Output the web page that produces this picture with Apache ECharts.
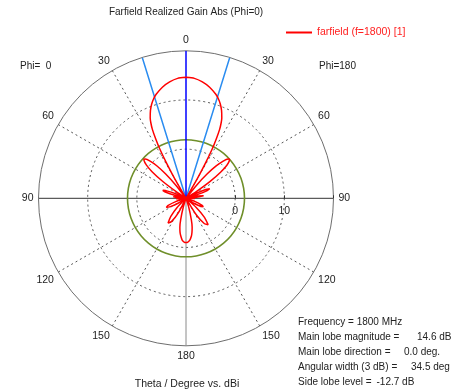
<!DOCTYPE html>
<html>
<head>
<meta charset="utf-8">
<script src="https://cdn.jsdelivr.net/npm/echarts@6/dist/echarts.min.js"></script>
<style>
html, body { margin: 0; padding: 0; background: #ffffff; }
#chart { width: 452px; height: 392px; }
</style>
</head>
<body>
<div id="chart"></div>
<script>
// Realized gain (dBi) versus theta, Phi = 180 half-plane (drawn on the right)
const thetaPhi180 = [0, 4, 8, 12, 16, 18, 20, 22, 24, 25, 26, 27, 28, 29, 30, 31,
  37, 39, 41, 43, 45, 47, 48, 49, 51, 53, 55, 57, 59,
  62, 64, 66, 68, 70, 72, 74,
  76, 79, 82, 85, 87,
  90, 92, 94,
  106, 110, 114, 116, 118, 122, 126,
  128, 132, 136, 140, 144, 148, 152,
  161, 163, 166, 168, 170, 172, 175, 178, 180];
const gainPhi180 = [14.6, 14.45, 13.9, 13.1, 12.0, 11.3, 10.4, 9.3, 7.9, 6.9, 5.6, 3.6, 1.3, -2, -5.5, -10,
  -10, -6.5, -3.4, -1.0, 0.7, 1.7, 1.9, 1.7, 0.7, -1.2, -4.0, -7.5, -10,
  -10, -7.8, -5.6, -4.8, -5.4, -7.6, -10,
  -10, -7.6, -6.4, -7.8, -10,
  -10, -8.2, -10,
  -10, -8, -6.4, -6.1, -6.4, -8, -10,
  -10, -7.2, -4.6, -3.0, -3.6, -6, -10,
  -10, -8, -5.5, -4.0, -3.0, -2.2, -1.4, -1.05, -1.0];

// Realized gain (dBi) versus theta, Phi = 0 half-plane (drawn on the left)
const thetaPhi0 = [0, 4, 8, 12, 16, 18, 20, 22, 24, 25, 26, 27, 28, 29, 30, 31,
  36, 38, 40, 42, 44, 46, 47, 48, 50, 52, 54, 56, 58,
  64, 66, 69, 71, 73, 75, 77,
  80, 83, 86, 88,
  90, 93, 95,
  104, 108, 112, 115, 118, 122, 126,
  132, 136, 140, 144, 148, 152, 156,
  161, 163, 166, 168, 170, 172, 175, 178, 180];
const gainPhi0 = [14.6, 14.45, 13.9, 13.1, 12.0, 11.3, 10.4, 9.3, 7.9, 6.9, 5.6, 3.6, 1.3, -2, -5.5, -10,
  -10, -6.5, -3.5, -1.1, 0.5, 1.5, 1.7, 1.5, 0.5, -1.3, -4.1, -7.6, -10,
  -10, -8, -5.8, -5.0, -5.6, -7.8, -10,
  -10, -7.4, -8.5, -10,
  -10, -8, -10,
  -10, -7.8, -6.0, -5.6, -6.4, -8.2, -10,
  -10, -7.4, -5.2, -3.8, -4.4, -6.6, -10,
  -10, -8, -5.5, -4.0, -3.0, -2.3, -1.4, -1.05, -1.0];

// Radial scale (dBi) and angular grid
const radialMin = -10;
const radialMax = 20;
const radialStep = 10;
const radialLabels = [0, 10];
const angleStep = 30;

// Summary figures
const mainLobeMagnitude = 14.6;
const mainLobeDirection = 0.0;
const angularWidth3dB = 34.5;
const sideLobeLevel = -12.7;
const frequencyMHz = 1800;
const sideLobeRingAngles = [-270, -260, -250, -240, -230, -220, -210, -200, -190, -180, -170, -160, -150,
  -140, -130, -120, -110, -100, -90, -80, -70, -60, -50, -40, -30, -20, -10, 0, 10, 20, 30, 40, 50,
  60, 70, 80, 90];

const seriesName = 'farfield (f=1800) [1]';
const FONT = '"Liberation Sans", Arial, sans-serif';

// Angle axis runs clockwise from the 3 o'clock position starting at -270,
// so theta = 0 sits at the top; Phi=180 goes down the right, Phi=0 down the left.
function rightAngle(t) { return t <= 90 ? t : t - 360; }
function leftAngle(t) { return -t; }

const curve = [];
thetaPhi180.forEach((t, i) => curve.push([gainPhi180[i], rightAngle(t)]));
for (let i = thetaPhi0.length - 1; i >= 0; i--) curve.push([gainPhi0[i], leftAngle(thetaPhi0[i])]);

const sideLobeAbs = +(mainLobeMagnitude + sideLobeLevel).toFixed(1);
const ring = sideLobeRingAngles.map(a => [sideLobeAbs, a]);
const halfWidth = angularWidth3dB / 2;

function plainLine(data, color, width, z) {
  return {
    type: 'line', coordinateSystem: 'polar', data: data,
    symbol: 'none', silent: true, z: z, animation: false,
    lineStyle: { color: color, width: width }
  };
}

function infoText(x, y, text) {
  return { type: 'text', x: x, y: y, style: { text: text, font: '10px ' + FONT, fill: '#222', verticalAlign: 'middle' } };
}

const chart = echarts.init(document.getElementById('chart'), null, { renderer: 'canvas' });
chart.setOption({
  animation: false,
  backgroundColor: '#ffffff',
  textStyle: { fontFamily: FONT },
  title: {
    text: 'Farfield Realized Gain Abs (Phi=0)',
    left: 186, top: 7, padding: 0, textAlign: 'center',
    textStyle: { fontSize: 10, fontWeight: 'normal', color: '#222', fontFamily: FONT }
  },
  legend: {
    data: [seriesName],
    left: 286, top: 27, padding: 0,
    itemWidth: 26, itemHeight: 2, icon: 'rect',
    textStyle: { color: '#ff2020', fontSize: 10.5, fontFamily: FONT }
  },
  polar: { center: [186, 198.3], radius: 147.5 },
  angleAxis: {
    type: 'value', min: -270, max: 90, interval: angleStep,
    startAngle: 0, clockwise: true,
    axisLine: { show: true, lineStyle: { color: '#6e6e6e', width: 1 } },
    axisTick: { show: false },
    axisLabel: {
      margin: 5, color: '#222', fontSize: 10.5, fontFamily: FONT,
      formatter: v => String(v >= 0 ? v : (v >= -180 ? -v : v + 360))
    },
    splitLine: {
      show: true,
      lineStyle: { color: ['rgba(0,0,0,0)', '#555', '#555'], type: [2, 3], width: 1 }
    }
  },
  radiusAxis: {
    type: 'value', min: radialMin, max: radialMax, interval: radialStep,
    axisLine: { show: false },
    axisTick: { show: true, length: 3, lineStyle: { color: '#333' } },
    axisLabel: {
      color: '#222', fontSize: 10.5, fontFamily: FONT, margin: -18,
      formatter: v => (radialLabels.indexOf(v) >= 0 ? String(v) : '')
    },
    splitLine: {
      show: true,
      lineStyle: { color: ['rgba(0,0,0,0)', '#555', '#555', 'rgba(0,0,0,0)'], type: [2, 3], width: 1 }
    }
  },
  series: [
    plainLine([[radialMax, -90], [radialMin, 0], [radialMax, 90]], '#333', 1, 2),
    plainLine([[radialMin, 0], [radialMax, -180]], '#8a8a8a', 1, 2),
    Object.assign(plainLine(ring, '#6f8f2a', 1.6, 3), { smooth: true }),
    plainLine([[radialMax, -halfWidth], [radialMin, 0], [radialMax, halfWidth]], '#2a8cf0', 1.5, 4),
    plainLine([[radialMin, 0], [radialMax, mainLobeDirection]], '#0000ff', 1.5, 4),
    {
      name: seriesName, type: 'line', coordinateSystem: 'polar',
      data: curve, symbol: 'none', smooth: 0.2, z: 5,
      lineStyle: { color: '#ff0000', width: 1.5 },
      itemStyle: { color: '#ff0000' }
    }
  ],
  graphic: [
    { type: 'text', x: 20, y: 66, style: { text: 'Phi=  0', font: '10px ' + FONT, fill: '#222', verticalAlign: 'middle' } },
    { type: 'text', x: 319, y: 66, style: { text: 'Phi=180', font: '10px ' + FONT, fill: '#222', verticalAlign: 'middle' } },
    { type: 'text', x: 187, y: 384, style: { text: 'Theta / Degree vs. dBi', font: '10.5px ' + FONT, fill: '#222', align: 'center', verticalAlign: 'middle' } },
    infoText(298, 322, 'Frequency = ' + frequencyMHz + ' MHz'),
    infoText(298, 337, 'Main lobe magnitude ='),
    infoText(417, 337, mainLobeMagnitude.toFixed(1) + ' dB'),
    infoText(298, 352, 'Main lobe direction ='),
    infoText(404, 352, mainLobeDirection.toFixed(1) + ' deg.'),
    infoText(298, 367, 'Angular width (3 dB) ='),
    infoText(411, 367, angularWidth3dB.toFixed(1) + ' deg'),
    infoText(298, 382, 'Side lobe level ='),
    infoText(376.5, 382, sideLobeLevel.toFixed(1) + ' dB')
  ]
});
</script>
</body>
</html>
